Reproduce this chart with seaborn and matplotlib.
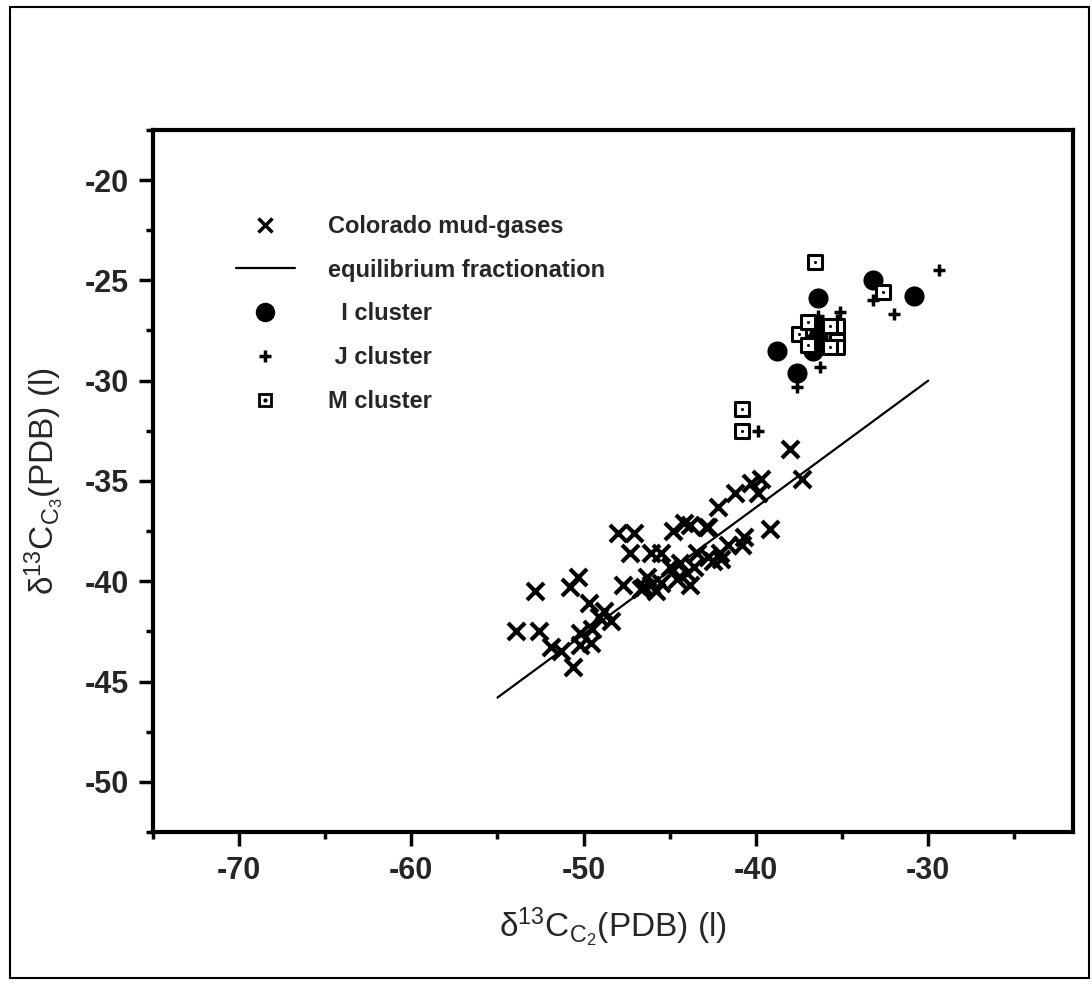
import seaborn as sns
import matplotlib.pyplot as plt
from matplotlib.lines import Line2D
from matplotlib.patches import Rectangle
from matplotlib.legend_handler import HandlerTuple
from matplotlib.ticker import MultipleLocator

# Colorado mud-gases (x = d13C C2, y = d13C C3)
mud_x = [-53.9, -52.8, -52.6, -51.9, -51.3, -50.6, -50.8, -50.3, -49.7, -50.2,
         -49.6, -50.2, -49.1, -48.4, -48.0, -47.1, -47.3, -47.7, -46.7, -46.1,
         -46.3, -46.1, -45.5, -44.8, -44.4, -43.8, -44.2, -42.8, -43.4, -42.8,
         -42.1, -42.5, -41.6, -40.8, -40.7, -39.2, -38.0, -37.3, -39.9, -39.7,
         -40.3, -41.2, -42.2, -43.8, -42.9, -43.6, -45.8, -45.5, -49.5, -48.8,
         -46.5, -44.0, -44.6, -45.0, -42.0]
mud_y = [-42.5, -40.5, -42.5, -43.3, -43.5, -44.3, -40.3, -39.8, -41.1, -42.6,
         -43.1, -43.2, -41.8, -42.0, -37.6, -37.6, -38.6, -40.2, -40.4, -40.2,
         -39.8, -38.6, -38.6, -37.5, -39.1, -40.2, -37.1, -37.3, -38.6, -38.8,
         -38.6, -39.0, -38.2, -38.2, -37.8, -37.4, -33.4, -34.9, -35.6, -34.9,
         -35.1, -35.6, -36.3, -37.2, -37.3, -39.3, -40.5, -40.1, -42.4, -41.5,
         -40.3, -39.6, -39.9, -39.3, -38.9]

# equilibrium fractionation line
eq_x = [-55.0, -30.0]
eq_y = [-45.8, -30.0]

# I cluster
i_x = [-33.2, -30.8, -36.4, -38.8, -37.6, -36.7, -36.4, -36.4, -36.7]
i_y = [-25.0, -25.8, -25.9, -28.5, -29.6, -28.5, -27.8, -27.3, -28.1]

# J cluster
j_x = [-29.4, -33.2, -32.0, -35.1, -36.3, -37.6, -39.9, -36.4, -35.3]
j_y = [-24.5, -26.0, -26.7, -26.6, -29.3, -30.3, -32.5, -26.8, -27.0]

# M cluster
m_x = [-36.6, -32.6, -37.5, -37.0, -35.3, -35.3, -35.3, -35.7, -35.7, -37.0,
       -40.8, -40.8]
m_y = [-24.1, -25.6, -27.7, -27.1, -27.3, -28.0, -28.3, -28.3, -27.3, -28.2,
       -31.4, -32.5]

sns.set_theme(style="white")
plt.rcParams['font.family'] = ['Liberation Sans', 'DejaVu Sans']
plt.rcParams['mathtext.fontset'] = 'custom'
plt.rcParams['mathtext.rm'] = 'Liberation Sans'
plt.rcParams['mathtext.it'] = 'Liberation Sans'
plt.rcParams['axes.unicode_minus'] = False

fig = plt.figure(figsize=(10.92, 9.84), dpi=100)
ax = fig.add_axes([0.140, 0.1545, 0.8426, 0.7135])

sns.lineplot(x=eq_x, y=eq_y, ax=ax, color='black', linewidth=1.6)
sns.scatterplot(x=mud_x, y=mud_y, ax=ax, marker='x', s=150, color='black',
                linewidth=3)
sns.scatterplot(x=i_x, y=i_y, ax=ax, marker='o', s=210, color='black',
                linewidth=0)
sns.scatterplot(x=j_x, y=j_y, ax=ax, marker='+', s=80, color='black',
                linewidth=2.5)
sns.scatterplot(x=m_x, y=m_y, ax=ax, marker='s', s=115, facecolor='white',
                edgecolor='black', linewidth=2.2)
sns.scatterplot(x=m_x, y=m_y, ax=ax, marker='o', s=5, color='black',
                linewidth=0)

ax.set_xlim(-75, -21.6)
ax.set_ylim(-52.5, -17.5)
ax.xaxis.set_major_locator(MultipleLocator(10))
ax.xaxis.set_minor_locator(MultipleLocator(5))
ax.yaxis.set_major_locator(MultipleLocator(5))
ax.yaxis.set_minor_locator(MultipleLocator(2.5))
ax.tick_params(axis='both', which='major', direction='out', length=10,
               width=2.5, color='black', labelsize=22, pad=7)
ax.tick_params(axis='both', which='minor', direction='out', length=5,
               width=2.5, color='black')
ax.tick_params(axis='x', which='both', bottom=True, top=False)
ax.tick_params(axis='y', which='both', left=True, right=False)
for lab in ax.get_xticklabels() + ax.get_yticklabels():
    lab.set_fontweight('bold')
for sp in ax.spines.values():
    sp.set_linewidth(3)
    sp.set_color('black')

ax.set_xlabel(r'$\mathrm{\delta^{13}C_{C_2}(PDB)\ (l)}$', fontsize=24,
              labelpad=14)
ax.set_ylabel(r'$\mathrm{\delta^{13}C_{C_3}(PDB)\ (l)}$', fontsize=24,
              labelpad=14)

h_mud = Line2D([], [], marker='x', color='black', linestyle='none',
               markersize=10, markeredgewidth=2.5)
h_eq = Line2D([], [], color='black', linewidth=1.6)
h_i = Line2D([], [], marker='o', color='black', linestyle='none',
             markersize=13)
h_j = Line2D([], [], marker='+', color='black', linestyle='none',
             markersize=9, markeredgewidth=2.5)
h_m = Line2D([], [], marker='s', markerfacecolor='white',
             markeredgecolor='black', linestyle='none', markersize=9,
             markeredgewidth=2)
h_m_dot = Line2D([], [], marker='o', color='black', linestyle='none',
                 markersize=2)
leg = ax.legend([h_mud, h_eq, h_i, h_j, (h_m, h_m_dot)],
                ['Colorado mud-gases', 'equilibrium fractionation',
                 '  I cluster', ' J cluster', 'M cluster'],
                handler_map={tuple: HandlerTuple(ndivide=1, pad=0)},
                loc='upper left', bbox_to_anchor=(0.09, 0.879),
                frameon=False, fontsize=17, handlelength=2.5,
                handletextpad=1.4, labelspacing=0.88, borderpad=0,
                borderaxespad=0)
for t in leg.get_texts():
    t.set_fontweight('semibold')

# page frame
fig.patches.append(Rectangle((0.009, 0.006), 0.988, 0.987,
                             transform=fig.transFigure, fill=False,
                             edgecolor='black', linewidth=1.5))

fig.savefig('out.png', dpi=100)
